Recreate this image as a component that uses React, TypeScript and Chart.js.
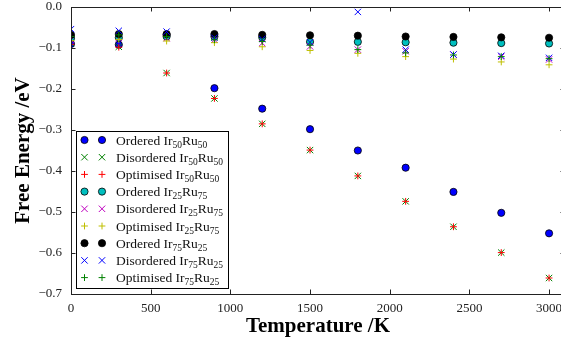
import React, { useEffect, useRef } from "react";
import { Chart, registerables } from "chart.js";

Chart.register(...registerables);

// ---------------- data ----------------
const temperatures = [0, 300, 600, 900, 1200, 1500, 1800, 2100, 2400, 2700, 3000];

const orderedIr50Ru50 = [-0.090, -0.092, -0.068, -0.198, -0.248, -0.298, -0.350, -0.392, -0.451, -0.502, -0.552];
const disorderedIr50Ru50 = [-0.088, -0.097, -0.161, -0.223, -0.285, -0.349, -0.412, -0.474, -0.536, -0.599, -0.661];
const optimisedIr50Ru50 = [-0.091, -0.098, -0.161, -0.223, -0.285, -0.349, -0.412, -0.474, -0.536, -0.599, -0.661];
const orderedIr25Ru75 = [-0.076, -0.075, -0.072, -0.072, -0.074, -0.085, -0.085, -0.086, -0.087, -0.088, -0.089];
const disorderedIr25Ru75 = [-0.080, -0.076, -0.076, -0.080, -0.088, -0.096, -0.104, -0.108, -0.116, -0.121, -0.128];
const optimisedIr25Ru75 = [-0.082, -0.079, -0.083, -0.087, -0.097, -0.106, -0.113, -0.121, -0.127, -0.134, -0.141];
const orderedIr75Ru25 = [-0.068, -0.066, -0.066, -0.066, -0.068, -0.069, -0.070, -0.072, -0.073, -0.074, -0.075];
const disorderedIr75Ru25 = [-0.054, -0.058, -0.060, -0.075, -0.078, -0.086, -0.012, -0.104, -0.116, -0.119, -0.124];
const optimisedIr75Ru25 = [-0.072, -0.068, -0.072, -0.080, -0.084, -0.093, -0.104, -0.112, -0.117, -0.121, -0.126];

const seriesKinds = ["Ordered", "Disordered", "Optimised", "Ordered", "Disordered", "Optimised", "Ordered", "Disordered", "Optimised"];
const seriesIr = ["50", "50", "50", "25", "25", "25", "75", "75", "75"];
const seriesRu = ["50", "50", "50", "75", "75", "75", "25", "25", "25"];
const seriesValues = [
  orderedIr50Ru50, disorderedIr50Ru50, optimisedIr50Ru50,
  orderedIr25Ru75, disorderedIr25Ru75, optimisedIr25Ru75,
  orderedIr75Ru25, disorderedIr75Ru25, optimisedIr75Ru25,
];

const xTickValues = [0, 500, 1000, 1500, 2000, 2500, 3000];
const yTickValues = [0, -0.1, -0.2, -0.3, -0.4, -0.5, -0.6, -0.7];
const yTickLabels = ["0.0", "\u22120.1", "\u22120.2", "\u22120.3", "\u22120.4", "\u22120.5", "\u22120.6", "\u22120.7"];
const xMin = 0, xMax = 3100;
const yMin = -0.7, yMax = 0;

// ---------------- styles ----------------
const SERIF = '"Liberation Serif", "Times New Roman", serif';
const seriesColors = ["#0000ff", "#008000", "#ff0000", "#00bfbf", "#bf00bf", "#bfbf00", "#000000", "#0000ff", "#008000"];
const seriesMarkers = ["circle", "crossRot", "cross", "circle", "crossRot", "cross", "circle", "crossRot", "cross"];

function drawMarker(ctx: CanvasRenderingContext2D, kind: string, color: string, x: number, y: number) {
  ctx.save();
  if (kind === "circle") {
    ctx.beginPath();
    ctx.arc(x, y, 3.6, 0, Math.PI * 2);
    ctx.fillStyle = color;
    ctx.fill();
    ctx.lineWidth = 0.8;
    ctx.strokeStyle = "#000";
    ctx.stroke();
  } else if (kind === "crossRot") {
    const d = 3.2;
    ctx.beginPath();
    ctx.moveTo(x - d, y - d); ctx.lineTo(x + d, y + d);
    ctx.moveTo(x - d, y + d); ctx.lineTo(x + d, y - d);
    ctx.strokeStyle = color; ctx.lineWidth = 1;
    ctx.stroke();
  } else {
    const d = 3.4;
    ctx.beginPath();
    ctx.moveTo(x - d, y); ctx.lineTo(x + d, y);
    ctx.moveTo(x, y - d); ctx.lineTo(x, y + d);
    ctx.strokeStyle = color; ctx.lineWidth = 1;
    ctx.stroke();
  }
  ctx.restore();
}

const frameAndTicks = {
  id: "frameAndTicks",
  afterDatasetsDraw(chart: any) {
    const { ctx, chartArea, scales } = chart;
    const { left, right, top, bottom } = chartArea;
    const xs = scales.x, ys = scales.y;
    const L = 4.5;
    ctx.save();
    ctx.strokeStyle = "#222";
    ctx.lineWidth = 1;
    ctx.beginPath();
    xs.ticks.forEach((t: any) => {
      const px = Math.round(xs.getPixelForValue(t.value)) + 0.5;
      ctx.moveTo(px, bottom); ctx.lineTo(px, bottom - L);
      ctx.moveTo(px, top); ctx.lineTo(px, top + L);
    });
    ys.ticks.forEach((t: any) => {
      const py = Math.round(ys.getPixelForValue(t.value)) + 0.5;
      ctx.moveTo(left, py); ctx.lineTo(left + L, py);
      ctx.moveTo(right, py); ctx.lineTo(right - L, py);
    });
    ctx.stroke();
    ctx.strokeRect(Math.round(left) + 0.5, Math.round(top) + 0.5, Math.round(right - left), Math.round(bottom - top));
    ctx.restore();
  },
};

const subLegend = {
  id: "subLegend",
  afterDraw(chart: any) {
    const { ctx, chartArea } = chart;
    const n = seriesKinds.length;
    const rowH = 17.2;
    const boxLeft = chartArea.left + 5;
    const boxBottom = chartArea.bottom - 6;
    const boxH = 9 + (n - 1) * rowH + 10.4;
    const boxTop = boxBottom - boxH;
    const textX = boxLeft + 40;
    const mainFont = `13.5px ${SERIF}`;
    const subFont = `9.5px ${SERIF}`;

    const measure = (i: number) => {
      ctx.font = mainFont;
      let w = ctx.measureText(seriesKinds[i] + " Ir").width + ctx.measureText("Ru").width;
      ctx.font = subFont;
      w += ctx.measureText(seriesIr[i]).width + ctx.measureText(seriesRu[i]).width;
      return w;
    };
    let maxW = 0;
    for (let i = 0; i < n; i++) maxW = Math.max(maxW, measure(i));
    const boxW = textX - boxLeft + maxW + 5;

    ctx.save();
    ctx.fillStyle = "#fff";
    ctx.fillRect(boxLeft, boxTop, boxW, boxH);
    ctx.strokeStyle = "#000";
    ctx.lineWidth = 1;
    ctx.strokeRect(Math.round(boxLeft) + 0.5, Math.round(boxTop) + 0.5, Math.round(boxW), Math.round(boxH));

    for (let i = 0; i < n; i++) {
      const cy = boxTop + 9 + i * rowH;
      drawMarker(ctx, seriesMarkers[i], seriesColors[i], boxLeft + 8.5, cy);
      drawMarker(ctx, seriesMarkers[i], seriesColors[i], boxLeft + 26, cy);
      const base = cy + 4.5;
      let x = textX;
      ctx.fillStyle = "#111";
      ctx.textBaseline = "alphabetic";
      ctx.textAlign = "left";
      ctx.font = mainFont;
      const p1 = seriesKinds[i] + " Ir";
      ctx.fillText(p1, x, base); x += ctx.measureText(p1).width;
      ctx.font = subFont;
      ctx.fillText(seriesIr[i], x, base + 3); x += ctx.measureText(seriesIr[i]).width;
      ctx.font = mainFont;
      ctx.fillText("Ru", x, base); x += ctx.measureText("Ru").width;
      ctx.font = subFont;
      ctx.fillText(seriesRu[i], x, base + 3);
    }
    ctx.restore();
  },
};

export default function App() {
  const ref = useRef<HTMLCanvasElement | null>(null);

  useEffect(() => {
    if (!ref.current) return;
    const datasets = seriesValues.map((vals, i) => ({
      label: `${seriesKinds[i]} Ir${seriesIr[i]}Ru${seriesRu[i]}`,
      data: temperatures.map((t, j) => ({ x: t, y: vals[j] })),
      pointStyle: seriesMarkers[i],
      pointRadius: seriesMarkers[i] === "circle" ? 3.6 : seriesMarkers[i] === "crossRot" ? 4.5 : 3.4,
      pointHoverRadius: seriesMarkers[i] === "circle" ? 3.6 : 4.5,
      backgroundColor: seriesColors[i],
      borderColor: seriesMarkers[i] === "circle" ? "#000" : seriesColors[i],
      pointBorderWidth: seriesMarkers[i] === "circle" ? 0.8 : 1,
      borderWidth: seriesMarkers[i] === "circle" ? 0.8 : 1,
      showLine: false,
      clip: 0,
      order: seriesValues.length - i,
    }));

    const tickFont = { family: SERIF, size: 13 };
    const titleFont = { family: SERIF, size: 21, weight: "bold" as const };

    const chart = new Chart(ref.current, {
      type: "scatter",
      data: { datasets },
      plugins: [frameAndTicks, subLegend],
      options: {
        animation: false,
        responsive: false,
        maintainAspectRatio: false,
        events: [],
        layout: { padding: { top: 7, right: 35, left: 0, bottom: 0 } },
        plugins: { legend: { display: false }, tooltip: { enabled: false } },
        scales: {
          x: {
            type: "linear",
            min: xMin,
            max: xMax,
            grid: { display: false, drawTicks: false },
            border: { display: false },
            ticks: {
              padding: 7,
              color: "#222",
              font: tickFont,
              maxRotation: 0,
              minRotation: 0,
              autoSkip: false,
              callback: (v: any) => String(v),
            },
            title: {
              display: true,
              text: "Temperature /K",
              color: "#000",
              font: titleFont,
              padding: { top: 0, bottom: 2.4 },
            },
            afterBuildTicks: (s: any) => {
              s.ticks = xTickValues.map((v) => ({ value: v }));
            },
            afterFit: (s: any) => {
              s.height = 48;
              s.paddingLeft = 0;
              s.paddingRight = 0;
            },
          },
          y: {
            type: "linear",
            min: yMin,
            max: yMax,
            grid: { display: false, drawTicks: false },
            border: { display: false },
            ticks: {
              padding: 9,
              color: "#222",
              font: tickFont,
              autoSkip: false,
              callback: (v: any) => {
                const k = yTickValues.findIndex((t) => Math.abs(t - Number(v)) < 1e-9);
                return k >= 0 ? yTickLabels[k] : "";
              },
            },
            title: {
              display: true,
              text: "Free Energy /eV",
              color: "#000",
              font: titleFont,
              padding: { top: 11, bottom: 0 },
            },
            afterBuildTicks: (s: any) => {
              s.ticks = yTickValues.map((v) => ({ value: v }));
            },
            afterFit: (s: any) => {
              s.width = 71;
              s.paddingTop = 0;
              s.paddingBottom = 0;
            },
          },
        },
      },
    });
    return () => chart.destroy();
  }, []);

  return (
    <div
      style={{
        position: "fixed",
        left: 0,
        top: 0,
        width: 561,
        height: 342,
        overflow: "hidden",
        background: "#fff",
      }}
    >
      <canvas ref={ref} width={600} height={342} style={{ display: "block", width: 600, height: 342 }} />
    </div>
  );
}
